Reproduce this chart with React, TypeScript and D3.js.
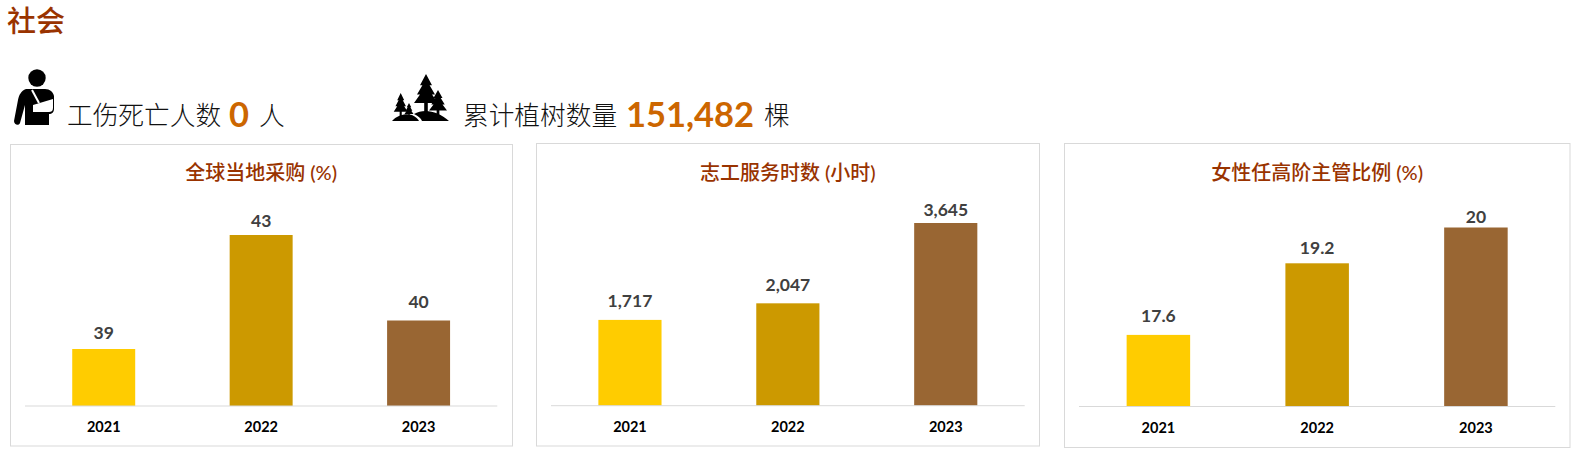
import * as d3 from "d3";
import { useEffect, useRef } from "react";

const years = ["2021", "2022", "2023"];
const barColors = ["#ffcc00", "#cc9900", "#996633"];

const procurementValues = [39, 43, 40];
const volunteerValues = [1717, 2047, 3645];
const womenValues = [17.6, 19.2, 20];

const volunteerFormat = d3.format(",");

const CJK = '"Noto Sans CJK SC", sans-serif';
const LATIN = 'Lato, "Noto Sans CJK SC", sans-serif';

interface PanelSpec {
  title: string;
  values: number[];
  domain: [number, number];
  box: [number, number, number, number];
  xRange: [number, number];
  yTop: number;
  baseline: number;
  labelGaps: number[];
  label?: (v: number) => string;
}

const panels: PanelSpec[] = [
  {
    title: "全球当地采购 (%)",
    values: procurementValues,
    domain: [37, 43],
    box: [10.5, 144.5, 502, 301.5],
    xRange: [25, 497.3],
    yTop: 235,
    baseline: 406,
    labelGaps: [10, 8, 12.5],
  },
  {
    title: "志工服务时数 (小时)",
    values: volunteerValues,
    domain: [10, 3645],
    box: [536.5, 143.5, 503, 302.5],
    xRange: [551, 1024.7],
    yTop: 223,
    baseline: 405.7,
    labelGaps: [13, 12, 7],
    label: (v) => volunteerFormat(v),
  },
  {
    title: "女性任高阶主管比例 (%)",
    values: womenValues,
    domain: [16, 20],
    box: [1064.5, 143.5, 505.5, 304],
    xRange: [1079, 1555.3],
    yTop: 227.5,
    baseline: 406.5,
    labelGaps: [13, 9, 5],
  },
];

export default function App() {
  const svgRef = useRef<SVGSVGElement>(null);

  useEffect(() => {
    if (!svgRef.current) return;
    const svg = d3.select(svgRef.current);
    svg.selectAll("*").remove();

    // Heading
    svg
      .append("text")
      .attr("x", 7)
      .attr("y", 32)
      .style("font-family", CJK)
      .style("font-size", "29px")
      .style("font-weight", "500")
      .style("fill", "#993300")
      .text("社会");

    // Injured person icon
    const person = svg.append("g").attr("transform", "translate(12,68)");
    person.append("circle").attr("cx", 25).attr("cy", 10).attr("r", 8.7).attr("fill", "#000");
    person
      .append("path")
      .attr(
        "d",
        "M14 21 C9 23 7 27 6 32 L2 53 C2 57 7 58 8 55 L13 37 L13 57 L37 57 L37 46 C40 46 42 44 42 41 L42 28 C41 24 38 21 33 21 Z"
      )
      .attr("fill", "#000");
    person
      .append("path")
      .attr("d", "M21 37 L41 31 L41 40 C41 43 39 44 37 44 L21 44 Z")
      .attr("fill", "#fff");
    person
      .append("path")
      .attr("d", "M20 22 L27 35")
      .attr("stroke", "#fff")
      .attr("stroke-width", 2)
      .attr("fill", "none");

    // Trees icon
    const trees = svg.append("g").attr("transform", "translate(392,73)").attr("fill", "#000");
    const tree = (cx: number, top: number, w: number, h: number) => {
      const s = w / 2;
      trees
        .append("path")
        .attr(
          "d",
          `M${cx} ${top} L${cx + s * 0.5} ${top + h * 0.33} L${cx + s * 0.3} ${top + h * 0.33} L${cx + s * 0.75} ${top + h * 0.6} L${cx + s * 0.5} ${top + h * 0.6} L${cx + s} ${top + h * 0.85} L${cx + s * 0.15} ${top + h * 0.85} L${cx + s * 0.15} ${top + h * 1.2} L${cx - s * 0.15} ${top + h * 1.2} L${cx - s * 0.15} ${top + h * 0.85} L${cx - s} ${top + h * 0.85} L${cx - s * 0.5} ${top + h * 0.6} L${cx - s * 0.75} ${top + h * 0.6} L${cx - s * 0.3} ${top + h * 0.33} L${cx - s * 0.5} ${top + h * 0.33} Z`
        );
    };
    tree(34, 1, 24, 34);
    tree(46, 17, 18, 24);
    tree(8.7, 20, 14, 22);
    tree(17, 30, 9, 13);
    trees.append("path").attr("d", "M0 48 C5 42 14 40 20 42 C24 44 26 46 27 48 Z");
    trees.append("path").attr("d", "M22 41 C32 35 46 38 57 48 L30 48 C29 45 26 43 22 41 Z");

    // KPI lines
    const note = (x: number, s: string) =>
      svg
        .append("text")
        .attr("x", x)
        .attr("y", 125)
        .style("font-family", CJK)
        .style("font-size", "25.7px")
        .style("font-weight", "300")
        .style("fill", "#111")
        .text(s);
    const figure = (x: number, s: string) =>
      svg
        .append("text")
        .attr("x", x)
        .attr("y", 127)
        .attr("text-anchor", "middle")
        .style("font-family", LATIN)
        .style("font-size", "34.5px")
        .style("font-weight", "700")
        .style("fill", "#cc6600")
        .text(s);
    note(67, "工伤死亡人数");
    figure(239, "0");
    note(259, "人");
    note(463, "累计植树数量");
    figure(690, "151,482");
    note(764, "棵");

    panels.forEach((p) => {
      const g = svg.append("g");
      const [bx, by, bw, bh] = p.box;
      g.append("rect")
        .attr("x", bx)
        .attr("y", by)
        .attr("width", bw)
        .attr("height", bh)
        .attr("fill", "#fff")
        .attr("stroke", "#d9d9d9");

      g.append("text")
        .attr("x", (p.xRange[0] + p.xRange[1]) / 2)
        .attr("y", 180)
        .attr("text-anchor", "middle")
        .style("font-family", LATIN)
        .style("font-size", "20px")
        .style("font-weight", "500")
        .style("fill", "#993300")
        .text(p.title);

      const x = d3.scaleBand<string>().domain(years).range(p.xRange).paddingInner(0.6).paddingOuter(0.3);
      const y = d3.scaleLinear().domain(p.domain).range([p.baseline, p.yTop]);
      const fmt = p.label ?? ((v: number) => String(v));

      g.selectAll(".bar")
        .data(p.values)
        .enter()
        .append("rect")
        .attr("class", "bar")
        .attr("x", (_, i) => x(years[i])!)
        .attr("width", x.bandwidth())
        .attr("y", (d) => y(d))
        .attr("height", (d) => p.baseline - y(d))
        .attr("fill", (_, i) => barColors[i]);

      g.selectAll(".value-label")
        .data(p.values)
        .enter()
        .append("text")
        .attr("class", "value-label")
        .attr("x", (_, i) => x(years[i])! + x.bandwidth() / 2)
        .attr("y", (d, i) => y(d) - p.labelGaps[i])
        .attr("text-anchor", "middle")
        .style("font-family", LATIN)
        .style("font-size", "17.5px")
        .style("font-weight", "700")
        .style("fill", "#404040")
        .text((d) => fmt(d));

      // Category axis
      const axis = g
        .append("g")
        .attr("transform", `translate(0,${p.baseline})`)
        .call(d3.axisBottom(x).tickSize(0).tickPadding(16));
      axis.select(".domain").remove();
      axis
        .selectAll("text")
        .style("font-family", LATIN)
        .style("font-size", "14.5px")
        .style("font-weight", "700")
        .style("fill", "#000");
      g.append("line")
        .attr("x1", p.xRange[0])
        .attr("x2", p.xRange[1])
        .attr("y1", p.baseline)
        .attr("y2", p.baseline)
        .attr("stroke", "#d9d9d9");
    });
  }, []);

  return (
    <svg
      ref={svgRef}
      width={1578}
      height={456}
      style={{ position: "absolute", left: 0, top: 0, background: "#fff" }}
    />
  );
}
